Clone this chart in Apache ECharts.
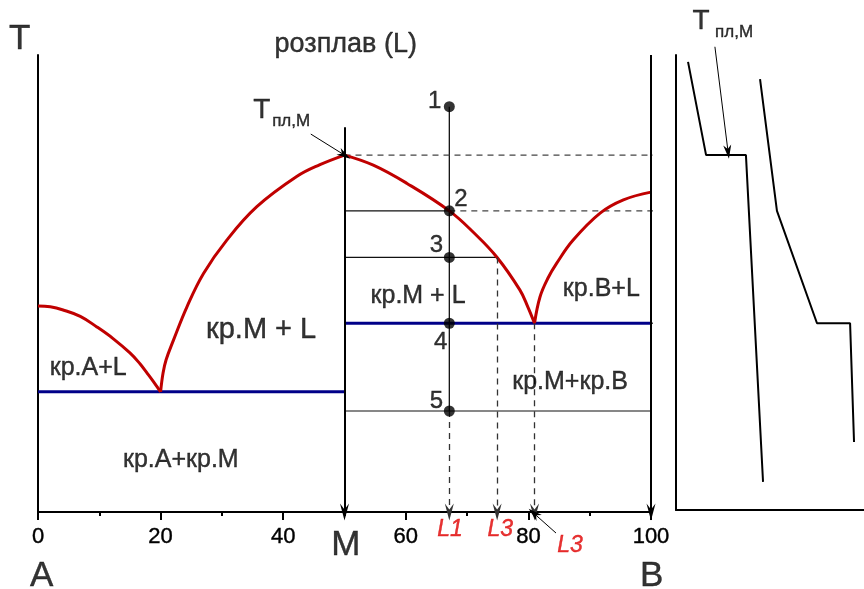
<!DOCTYPE html>
<html>
<head>
<meta charset="utf-8">
<script src="https://cdn.jsdelivr.net/npm/echarts@6/dist/echarts.min.js"></script>
<style>
  html, body { margin: 0; padding: 0; background: #fff; }
  #chart { width: 864px; height: 589px; }
</style>
</head>
<body>
<div id="chart"></div>
<script>
// Phase diagram A–B with congruent compound M, plus cooling curves.
// Composition in % (0 = A, 100 = B), temperature in relative units.
const xTickValues = [0, 20, 40, 60, 80, 100];

// liquidus branches
const liquidusA = [[0, 45.1], [2.0, 44.9], [4.1, 44.2], [6.9, 42.8], [9.6, 40.5], [12.2, 38.0], [15.0, 34.8], [16.6, 32.5], [17.8, 30.4], [18.8, 28.6], [20, 26.3]];
const liquidusMLeft = [[20, 26.3], [20.4, 30.4], [20.9, 33.3], [22.1, 37.6], [24.3, 44.9], [27.0, 52.2], [30.8, 59.5], [35.7, 66.8], [42.2, 73.4], [46.0, 76.0], [50, 78.1]];
const liquidusMRight = [[50, 78.1], [54.7, 75.9], [60.2, 71.9], [67.1, 65.9], [71.1, 61.1], [74.9, 55.7], [78.6, 48.6], [79.9, 44.9], [81.0, 41.3]];
const liquidusB = [[81.0, 41.3], [81.9, 47.1], [83.2, 51.2], [84.6, 54.4], [87.3, 59.5], [91.7, 65.4], [95.5, 68.3], [100, 70.0]];

// eutectic horizontals
const eutecticAM = [[0, 26.3], [50, 26.3]];
const eutecticMB = [[50, 41.3], [100, 41.3]];

// compound M
const compM = 50;
const tMeltM = 78.1;
const compMTop = 84.2;

// alloy being cooled and its characteristic points 1..5
const alloyX = 67.1;
const alloyT = [88.7, 65.9, 55.7, 41.3, 22.1];
const alloyNames = ['1', '2', '3', '4', '5'];
const alloyNamePos = [[64.7, 89.9], [69.0, 68.5], [65.0, 58.3], [65.7, 37.2], [65.0, 24.3]];

// tie lines (from M to the opposite phase boundary)
const tieLines = [
  [[50, 65.9], [67.1, 65.9]],
  [[50, 55.7], [74.9, 55.7]],
  [[50, 22.1], [100, 22.1]]
];

// liquid compositions projected on the axis
const liquidDrops = [[67.1, 22.1], [74.9, 55.7], [81.0, 41.3]];
const liquidNames = [['L1', 67.2, -3.9], ['L3', 75.4, -3.9], ['L3', 86.8, -7.4]];

// cooling curves (time, temperature)
const coolingM = [[6.4, 98.5], [16.0, 78.1], [37.2, 78.1], [46.3, 6.6]];
const coolingAlloy = [[44.7, 94.7], [53.7, 65.9], [75.0, 41.3], [92.6, 41.3], [94.7, 15.3]];

// region and axis captions: text, x, y, font size
const regionLabels = [
  ['розплав (L)', 50.2, 102.2, 27],
  ['кр.М + L', 36.4, 39.8, 29],
  ['кр.A+L', 8.2, 31.5, 25],
  ['кр.A+кр.M', 23.3, 11.4, 25],
  ['кр.М + L', 62.0, 47.3, 25],
  ['кр.B+L', 91.9, 48.8, 25],
  ['кр.М+кр.B', 86.8, 28.4, 25]
];
const bigLetters = [['T', -3.0, 103.4], ['M', 50.2, -7.4], ['A', 0.6, -14.0], ['B', 100.1, -14.0]];

// pointer arrows: grid, from, to
const pointers = [
  [0, [44.5, 82.7], [50, 78.1]],
  [0, [84.5, -4.6], [80.9, -0.3]],
  [1, [20.7, 101.8], [27.7, 78.8]]
];

const FONT = '"Liberation Sans", Arial, sans-serif';
const RED = '#c00000';
const NAVY = '#000088';
const ARROW = 'path://M4,0 L8,17 L4,11 L0,17 Z';
const ARROW_SMALL = 'path://M4,0 L8,14 L4,10 L0,14 Z';

function textItem(text, x, y, size, extra) {
  const color = (extra && extra.color) || '#000';
  return {
    value: [x, y],
    label: Object.assign({
      show: true, position: 'inside', formatter: text,
      fontSize: size, fontFamily: FONT, color: color,
      textBorderColor: color, textBorderWidth: 0.4,
      align: 'center', verticalAlign: 'middle'
    }, extra || {})
  };
}

function curve(data, color, width) {
  return {
    type: 'line', data: data, smooth: 0.4, smoothConstraint: false, symbol: 'none', clip: false,
    lineStyle: { color: color, width: width }, silent: true, z: 3
  };
}

function straight(data, color, width, type, gridIdx) {
  return {
    type: 'line', data: data, symbol: 'none', clip: false, silent: true,
    xAxisIndex: gridIdx || 0, yAxisIndex: gridIdx || 0,
    lineStyle: { color: color, width: width, type: type || 'solid' }, z: 2
  };
}

function arrowLine(from, to, style, sym, size) {
  return [
    Object.assign({ symbol: 'none' }, from),
    Object.assign({ symbol: sym || ARROW, symbolSize: size || [9, 17], lineStyle: style }, to)
  ];
}

const solidBold = { color: '#000', width: 2, type: 'solid' };
const dashedThin = { color: '#333', width: 1.3, type: [6, 5] };
const thin = { color: '#000', width: 1, type: 'solid' };

const axisMarks = [
  arrowLine({ coord: [compM, compMTop] }, { coord: [compM, 0] }, solidBold),
  arrowLine({ coord: [100, 100] }, { coord: [100, 0] }, solidBold)
].concat(liquidDrops.map(p => arrowLine({ coord: p }, { coord: [p[0], 0] }, dashedThin)));

const series = [
  curve(liquidusA, RED, 3),
  curve(liquidusMLeft, RED, 3),
  curve(liquidusMRight, RED, 3),
  curve(liquidusB, RED, 3),
  straight(eutecticAM, NAVY, 3),
  straight(eutecticMB, NAVY, 3)
];
tieLines.forEach(t => series.push(straight(t, '#111', 1.2)));
series.push(straight([[alloyX, alloyT[0]], [alloyX, alloyT[4]]], '#111', 1.3));
series.push({
  type: 'line', data: [], silent: true,
  markLine: { silent: true, animation: false, label: { show: false }, data: axisMarks }
});
series.push({
  type: 'scatter', data: alloyT.map(t => [alloyX, t]), symbolSize: 11, silent: true,
  itemStyle: { color: '#000' }, z: 6
});
// captions in the diagram
series.push({
  type: 'scatter', symbolSize: 0, clip: false, silent: true, itemStyle: { color: 'transparent' }, z: 7,
  data: []
    .concat(regionLabels.map(r => textItem(r[0], r[1], r[2], r[3])))
    .concat(bigLetters.map(b => textItem(b[0], b[1], b[2], 35)))
    .concat(alloyNames.map((n, i) => textItem(n, alloyNamePos[i][0], alloyNamePos[i][1], 24)))
    .concat(liquidNames.map(l => textItem(l[0], l[1], l[2], 23, { color: '#e00000', fontStyle: 'italic' })))
    .concat([textItem('T', 36.5, 87.9, 28), textItem('пл,М', 41.3, 85.45, 17)])
});

// cooling curves panel
series.push(straight(coolingM, '#000', 2, 'solid', 1));
series.push(straight(coolingAlloy, '#000', 2, 'solid', 1));
series.push({
  type: 'scatter', xAxisIndex: 1, yAxisIndex: 1, symbolSize: 0, clip: false, silent: true,
  itemStyle: { color: 'transparent' }, z: 7,
  data: [textItem('T', 13.3, 107.4, 28), textItem('пл,М', 30.9, 104.9, 17)]
});

const hidden = { show: false };
const option = {
  animation: false,
  backgroundColor: '#fff',
  grid: [
    { left: 38, right: 213, top: 55, bottom: 77 },
    { left: 676, right: 0, top: 55, bottom: 79 }
  ],
  xAxis: [
    {
      type: 'value', gridIndex: 0, min: 0, max: 100, interval: 20,
      axisLine: { show: true, onZero: false, lineStyle: { color: '#000', width: 2 } },
      axisTick: { show: true, length: 8, lineStyle: { color: '#000', width: 2 } },
      minorTick: { show: true, splitNumber: 2, length: 4, lineStyle: { color: '#000', width: 2 } },
      axisLabel: {
        show: true, margin: 14, fontSize: 22, fontFamily: FONT, color: '#000',
        textBorderColor: '#000', textBorderWidth: 0.4,
        customValues: xTickValues
      },
      splitLine: hidden
    },
    {
      type: 'value', gridIndex: 1, min: 0, max: 100,
      axisLine: { show: true, onZero: false, lineStyle: { color: '#000', width: 2 } },
      axisTick: hidden, axisLabel: hidden, splitLine: hidden
    }
  ],
  yAxis: [
    {
      type: 'value', gridIndex: 0, min: 0, max: 100,
      axisLine: { show: true, onZero: false, lineStyle: { color: '#000', width: 2 } },
      axisTick: hidden, axisLabel: hidden, splitLine: hidden
    },
    {
      type: 'value', gridIndex: 1, min: 0.44, max: 100,
      axisLine: { show: true, onZero: false, lineStyle: { color: '#000', width: 2 } },
      axisTick: hidden, axisLabel: hidden, splitLine: hidden
    }
  ],
  series: series
};

const chart = echarts.init(document.getElementById('chart'), null, { renderer: 'canvas' });
chart.setOption(option);

// dashed connectors from the diagram to the cooling-curve kinks
const connectors = [
  [[compM, tMeltM], coolingM[1]],
  [[alloyX, alloyT[1]], coolingAlloy[1]],
  [[100, alloyT[3]], coolingAlloy[2]]
];
const extra = connectors.map(([from, kink]) => {
  const px = chart.convertToPixel({ gridIndex: 1 }, kink);
  const end = chart.convertFromPixel({ gridIndex: 0 }, px);
  return straight([from, [end[0], from[1]]], '#444', 1.3, [6, 5]);
});

// pointer arrows may reach outside the plotting area, so place them in pixels
const pointerMarks = pointers.map(([g, from, to]) => {
  const a = chart.convertToPixel({ gridIndex: g }, from);
  const b = chart.convertToPixel({ gridIndex: g }, to);
  return arrowLine({ x: a[0], y: a[1] }, { x: b[0], y: b[1] }, thin, ARROW_SMALL, [8, 14]);
});
extra.push({
  type: 'line', data: [], silent: true,
  markLine: { silent: true, animation: false, label: { show: false }, data: pointerMarks }
});
chart.setOption({ series: series.concat(extra) });
</script>
</body>
</html>
